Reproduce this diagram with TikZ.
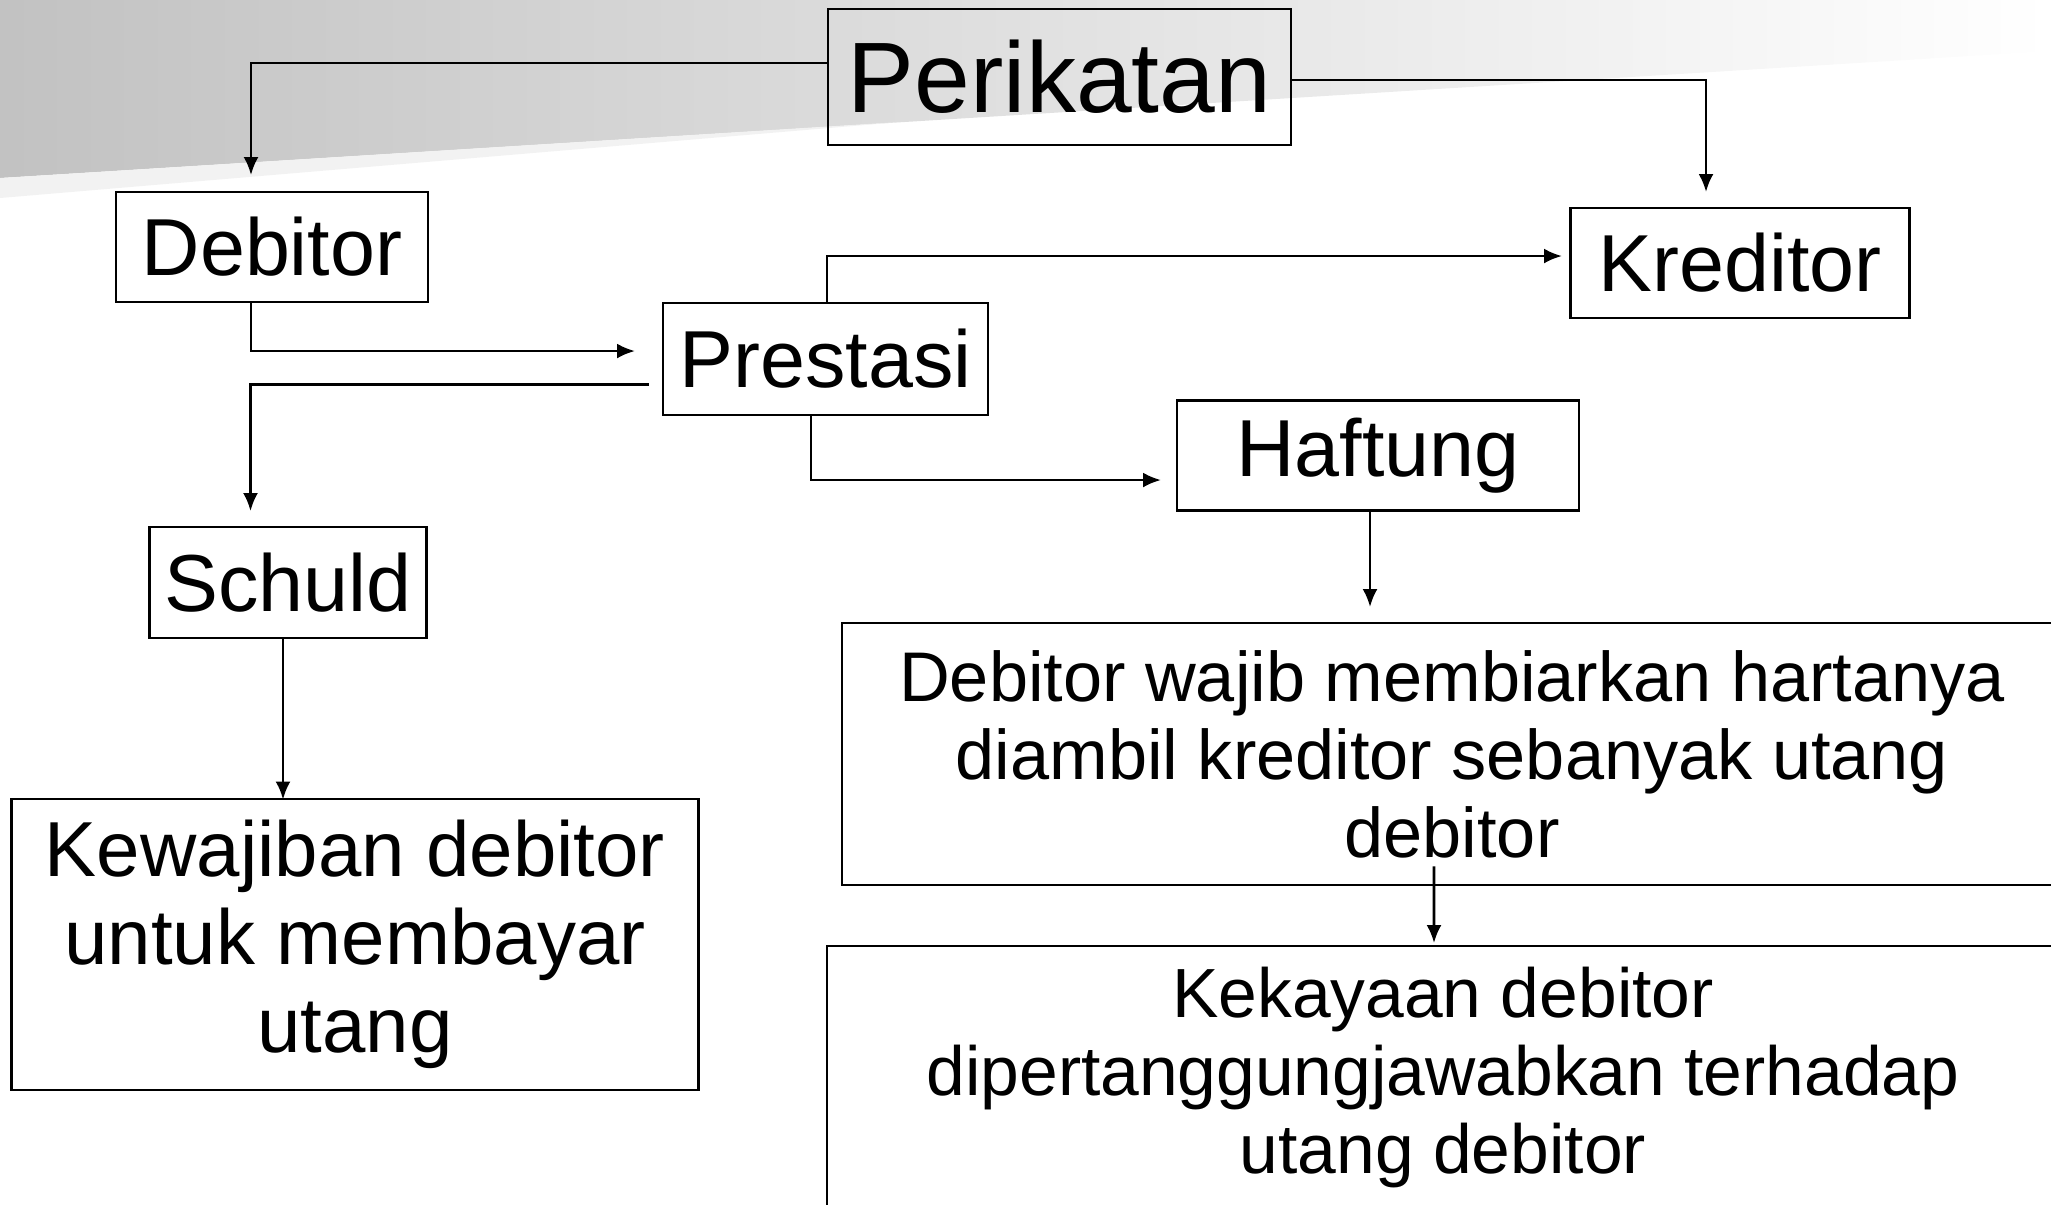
\documentclass[tikz,border=0pt]{standalone}
\usepackage{fontspec}
\setmainfont{Liberation Sans}
\usetikzlibrary{arrows.meta}

\tikzset{
  box/.style={draw, line width=0.7pt, inner sep=0pt, align=center,
    font=\fontsize{23}{26}\selectfont},
  link/.style={-{Latex[length=1.8mm,width=1.5mm]}, line width=0.75pt},
}

\begin{document}
\begin{tikzpicture}[x=0.1mm, y=-0.1mm]
    \clip (0,0) rectangle (2051,1204);
    % slide band at the top
    \shade[left color=gray!48, right color=white] (0,0) -- (2051,0) -- (2051,51) -- (0,178) -- cycle;
    \fill[gray!10] (0,178) -- (900,122) -- (0,198) -- cycle;

    \node[box, minimum width=46.3mm, minimum height=13.6mm, font=\fontsize{28.5}{32}\selectfont] (perikatan) at (1059.5,77) {Perikatan};
    \node[box, minimum width=31.2mm, minimum height=11mm] (debitor) at (272,247) {Debitor};
    \node[box, minimum width=33.9mm, minimum height=11mm] (kreditor) at (1740,263) {Kreditor};
    \node[box, minimum width=32.5mm, minimum height=11.2mm] (prestasi) at (825.5,359) {Prestasi};
    \node[box, minimum width=40.2mm, minimum height=11mm] (haftung) at (1378,455.5) {Haftung};
    \node[box, minimum width=27.7mm, minimum height=11.1mm] (schuld) at (288,582.5) {Schuld};
    \node[box, minimum width=68.7mm, minimum height=29.1mm, font=\fontsize{22.2}{25}\selectfont] (kewajiban) at (355,944.5) {Kewajiban debitor\\untuk membayar\\utang};
    \node[box, minimum width=122mm, minimum height=26.2mm, font=\fontsize{20}{22.2}\selectfont] (wajib) at (1452,754) {Debitor wajib membiarkan hartanya\\diambil kreditor sebanyak utang\\debitor};
    \node[box, minimum width=123.2mm, minimum height=26.2mm, font=\fontsize{19.8}{22.2}\selectfont] (kekayaan) at (1443,1077) {Kekayaan debitor\\dipertanggungjawabkan terhadap\\utang debitor};

    \coordinate (debtip) at (251,175);
    \coordinate (kretip) at (1706,192);
    \coordinate (pretip) at (635,351);
    \coordinate (schtip) at (250.5,511);
    \coordinate (kewtip) at (283,799.5);
    \coordinate (kreleft) at (1562,256);
    \coordinate (haftip) at (1161,480);
    \coordinate (wajtip) at (1370,607);
    \coordinate (kektip) at (1434,943);

    \draw [link] ([yshift=1.4mm]perikatan.west) -| (debtip);
    \draw [link] ([yshift=-0.3mm]perikatan.east) -| (kretip);
    \draw [link] (debitor.south -| debtip) |- (pretip);
    \draw [link] ([xshift=-1.3mm,yshift=-2.55mm]prestasi.west) -| (schtip);
    \draw [link] (schuld.south -| kewtip) -- (kewtip);
    \draw [link] ([xshift=0.15mm]prestasi.north) |- (kreleft);
    \draw [link] ([xshift=-1.45mm]prestasi.south) |- (haftip);
    \draw [link] (haftung.south -| wajtip) -- (wajtip);
    \draw [link] ([xshift=-1.8mm,yshift=2mm]wajib.south) -- (kektip);
\end{tikzpicture}
\end{document}
